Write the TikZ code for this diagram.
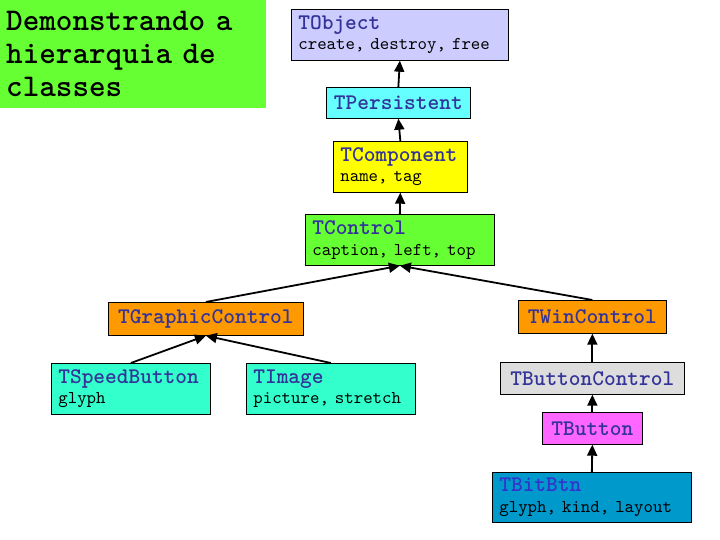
\documentclass[tikz,border=0pt]{standalone}
\usepackage{fontspec}
\newfontfamily\clsmono{lmmono10-regular}[Extension=.otf]
\newfontfamily\clsmonobold{lmmonolt10-bold}[Extension=.otf]
\usetikzlibrary{arrows.meta}

\definecolor{titlegreen}{HTML}{66FF33}
\definecolor{lavender}{HTML}{CCCCFF}
\definecolor{lightcyan}{HTML}{66FFFF}
\definecolor{compyellow}{HTML}{FFFF00}
\definecolor{ctrlorange}{HTML}{FF9900}
\definecolor{teal}{HTML}{33FFCC}
\definecolor{lightgray}{HTML}{DDDDDD}
\definecolor{pinkish}{HTML}{FF66FF}
\definecolor{btnblue}{HTML}{0099CC}
\definecolor{namecol}{HTML}{333399}
\definecolor{namecolb}{HTML}{3333CC}

\tikzset{
  cls/.style={draw=black, line width=0.7pt, anchor=north west, inner xsep=7pt,
    inner ysep=2pt, font=\clsmono\fontsize{18}{20.5}\selectfont},
  inherit/.style={line width=1.8pt, -{Triangle[length=11pt,width=10pt]}},
}
\newcommand{\cname}[2][namecol]{{\clsmonobold\fontsize{22.3}{22}\selectfont\color{#1}#2}}
\newcommand{\cattr}[1]{{\clsmono\fontsize{18}{20.5}\selectfont #1}}

\begin{document}
\begin{tikzpicture}[x=1pt,y=-1pt]
  \useasboundingbox (0,0) rectangle (720,540);

  % titulo
  \node[anchor=north west, fill=titlegreen, minimum width=266pt, minimum height=108pt,
    inner xsep=6pt, text width=254pt, align=left,
    font=\clsmonobold\fontsize{31.6}{33}\selectfont] (title) at (0,0)
    {Demonstrando a\\hierarquia de\\classes};

  % classes
  \node[cls, fill=lavender, minimum width=217pt, minimum height=51pt,
    text width=203pt, align=left] (tobject) at (291,9)
    {\cname{TObject}\\\cattr{create, destroy, free}};
  \node[cls, fill=lightcyan, minimum width=144pt, minimum height=31pt,
    align=center] (tpersistent) at (326,87) {\cname{TPersistent}};
  \node[cls, fill=compyellow, minimum width=134pt, minimum height=51pt,
    text width=120pt, align=left] (tcomponent) at (333,141)
    {\cname{TComponent}\\\cattr{name, tag}};
  \node[cls, fill=titlegreen, minimum width=189pt, minimum height=51pt,
    text width=175pt, align=left] (tcontrol) at (305,214)
    {\cname{TControl}\\\cattr{caption, left, top}};
  \node[cls, fill=ctrlorange, minimum width=195pt, minimum height=33pt,
    align=center] (tgraphiccontrol) at (108,302) {\cname{TGraphicControl}};
  \node[cls, fill=ctrlorange, minimum width=148pt, minimum height=33pt,
    align=center] (twincontrol) at (518,300) {\cname{TWinControl}};
  \node[cls, fill=teal, minimum width=159pt, minimum height=51pt,
    text width=145pt, align=left] (tspeedbutton) at (51,363)
    {\cname{TSpeedButton}\\\cattr{glyph}};
  \node[cls, fill=teal, minimum width=169pt, minimum height=51pt,
    text width=155pt, align=left] (timage) at (246,363)
    {\cname{TImage}\\\cattr{picture, stretch}};
  \node[cls, fill=lightgray, minimum width=184pt, minimum height=32pt,
    align=center] (tbuttoncontrol) at (500,362) {\cname{TButtonControl}};
  \node[cls, fill=pinkish, minimum width=100pt, minimum height=32pt,
    align=center] (tbutton) at (542,412) {\cname{TButton}};
  \node[cls, fill=btnblue, minimum width=199pt, minimum height=50pt,
    text width=185pt, align=left] (tbitbtn) at (492,472)
    {\cname[namecolb]{TBitBtn}\\\cattr{glyph, kind, layout}};

  % heranca
  \draw[inherit] (tpersistent.north) -- (tobject.south);
  \draw[inherit] (tcomponent.north) -- (tpersistent.south);
  \draw[inherit] (tcontrol.north) -- (tcomponent.south);
  \draw[inherit] (tgraphiccontrol.north) -- (tcontrol.south);
  \draw[inherit] (twincontrol.north) -- (tcontrol.south);
  \draw[inherit] (tspeedbutton.north) -- (tgraphiccontrol.south);
  \draw[inherit] (timage.north) -- (tgraphiccontrol.south);
  \draw[inherit] (tbuttoncontrol.north) -- (twincontrol.south);
  \draw[inherit] (tbutton.north) -- (tbuttoncontrol.south);
  \draw[inherit] (tbitbtn.north) -- (tbutton.south);
\end{tikzpicture}
\end{document}
